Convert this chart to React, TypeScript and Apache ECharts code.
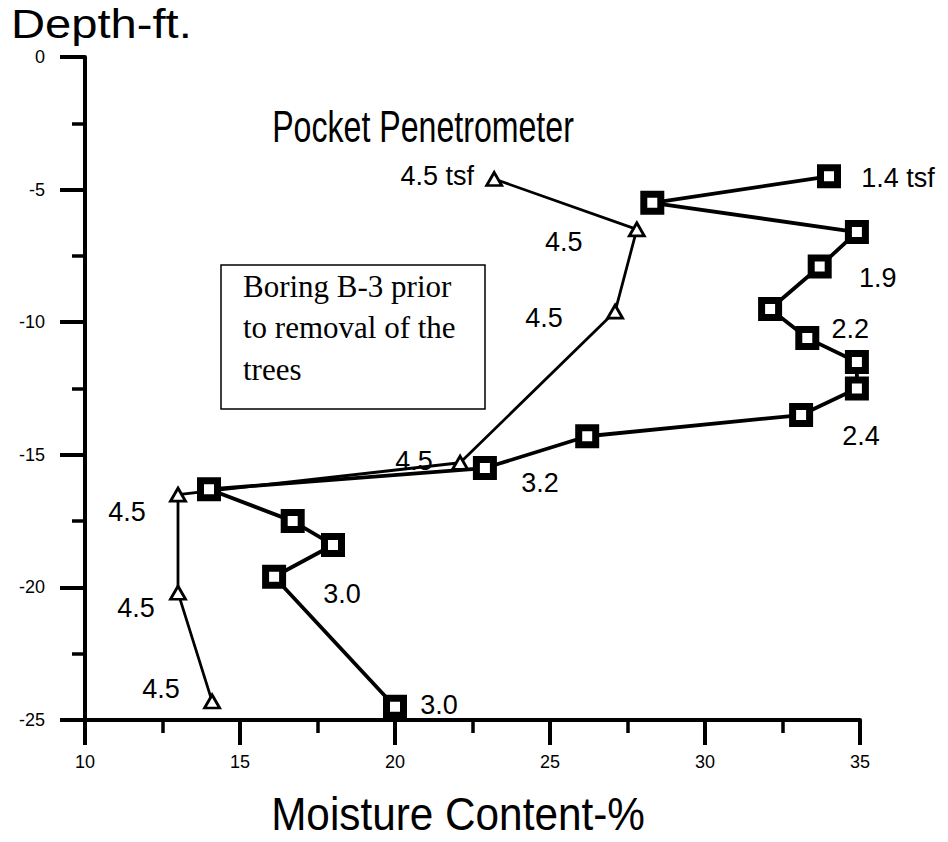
import React, { useEffect, useRef } from "react";
import * as echarts from "echarts";

// Triangle series (moisture content vs depth), pocket penetrometer readings
const triMoisture = [23.2, 27.8, 27.1, 22.1, 13.0, 13.0, 14.1];
const triDepth = [-4.6, -6.5, -9.6, -15.3, -16.5, -20.2, -24.3];
const triPenetrometer = ["4.5 tsf", "4.5", "4.5", "4.5", "4.5", "4.5", "4.5"];

// Square series (moisture content vs depth), pocket penetrometer readings
const sqMoisture = [34.0, 28.3, 34.9, 33.7, 32.1, 33.3, 34.9, 34.9, 33.1, 26.2, 22.9, 14.0, 16.7, 18.0, 16.1, 20.0];
const sqDepth = [-4.5, -5.5, -6.6, -7.9, -9.5, -10.6, -11.5, -12.5, -13.5, -14.3, -15.5, -16.3, -17.5, -18.4, -19.6, -24.5];
const sqPenetrometer = ["1.4 tsf", "", "", "1.9", "", "2.2", "", "", "2.4", "", "3.2", "", "", "", "3.0", "3.0"];

const xMin = 10;
const xMax = 35;
const xStep = 5;
const yMin = -25;
const yMax = 0;
const yStep = 5;

const titleY = "Depth-ft.";
const titleX = "Moisture Content-%";
const noteTitle = "Pocket Penetrometer";
const boxLines = ["Boring B-3 prior", "to removal of the", "trees"];

// label placement (layout only)
const triLabelOffsets: number[][] = [
  [-57, -3], [-73, 13], [-71, 6], [-46, -2], [-51, 17], [-42, 15], [-51, -12],
];
const sqLabelOffsets: (number[] | null)[] = [
  [69, 2], null, null, [58, 11], null, [43, -9], null, null, [60, 21], null, [55, 15], null, null, null, [68, 17], [44, -2],
];

const SANS = "'Liberation Sans', Arial, sans-serif";
const SERIF = "'Liberation Serif', 'Times New Roman', serif";

function buildData(xs: number[], ys: number[], labels: string[], offsets: (number[] | null)[]) {
  return xs.map((x, i) => {
    const text = labels[i];
    const off = offsets[i];
    return {
      value: [x, ys[i]],
      label: text
        ? {
            show: true,
            position: "inside",
            offset: off || [0, 0],
            formatter: text,
            color: "#000",
            fontSize: 27,
            fontFamily: SANS,
          }
        : { show: false },
    };
  });
}

export default function App() {
  const ref = useRef<HTMLDivElement>(null);

  useEffect(() => {
    document.body.style.margin = "0";
    if (!ref.current) return;
    const chart = echarts.init(ref.current, null, { renderer: "svg" });

    const axisCommon = {
      axisLine: { show: true, onZero: false, lineStyle: { color: "#000", width: 4 } },
      axisTick: { show: true, inside: false, length: 25, lineStyle: { color: "#000", width: 4 } },
      minorTick: { show: true, splitNumber: 2, length: 13, lineStyle: { color: "#000", width: 3.5 } },
      splitLine: { show: false },
      minorSplitLine: { show: false },
    };

    chart.setOption({
      animation: false,
      backgroundColor: "#fff",
      grid: { left: 85, right: 88, top: 57, bottom: 122, containLabel: false },
      xAxis: {
        type: "value",
        min: xMin,
        max: xMax,
        interval: xStep,
        ...axisCommon,
        axisLabel: { margin: 33, color: "#000", fontSize: 18, fontFamily: SANS },
      },
      yAxis: {
        type: "value",
        min: yMin,
        max: yMax,
        interval: yStep,
        ...axisCommon,
        axisLabel: { margin: 40, color: "#000", fontSize: 18, fontFamily: SANS },
      },
      series: [
        {
          type: "line",
          name: "triangles",
          data: buildData(triMoisture, triDepth, triPenetrometer, triLabelOffsets),
          symbol: "triangle",
          symbolSize: [15, 13],
          showAllSymbol: true,
          lineStyle: { color: "#000", width: 2.8 },
          itemStyle: { color: "#fff", borderColor: "#000", borderWidth: 2.8 },
          z: 3,
        },
        {
          type: "line",
          name: "squares",
          data: buildData(sqMoisture, sqDepth, sqPenetrometer, sqLabelOffsets),
          symbol: "rect",
          symbolSize: 17,
          showAllSymbol: true,
          lineStyle: { color: "#000", width: 3.8 },
          itemStyle: { color: "#fff", borderColor: "#000", borderWidth: 7 },
          z: 4,
        },
      ],
      graphic: [
        {
          type: "text",
          x: 11,
          y: 24,
          scaleX: 1.15,
          style: { text: titleY, font: `41px ${SANS}`, fill: "#000", textAlign: "left", textVerticalAlign: "middle" },
        },
        {
          type: "text",
          x: 423,
          y: 127,
          scaleX: 0.73,
          style: { text: noteTitle, font: `44px ${SANS}`, fill: "#000", textAlign: "center", textVerticalAlign: "middle" },
        },
        {
          type: "text",
          x: 458,
          y: 814,
          scaleX: 0.9,
          style: { text: titleX, font: `47px ${SANS}`, fill: "#000", textAlign: "center", textVerticalAlign: "middle" },
        },
        {
          type: "rect",
          shape: { x: 221, y: 265, width: 264, height: 144 },
          style: { fill: "#fff", stroke: "#000", lineWidth: 1.5 },
          z: 10,
        },
        ...boxLines.map((t, i) => ({
          type: "text",
          x: 243,
          y: 286 + i * 41.5,
          z: 11,
          style: { text: t, font: `31px ${SERIF}`, fill: "#000", textAlign: "left", textVerticalAlign: "middle" },
        })),
      ],
    });

    return () => chart.dispose();
  }, []);

  return <div ref={ref} style={{ width: 948, height: 842 }} />;
}
